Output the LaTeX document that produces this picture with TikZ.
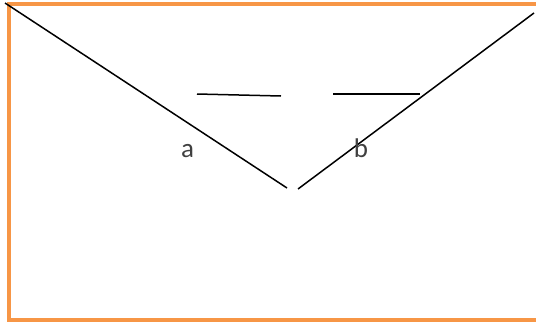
\documentclass[tikz,border=0pt]{standalone}
\usepackage{fontspec}
\setmainfont{Carlito}
\definecolor{frameorange}{HTML}{F79646}
\definecolor{labelgray}{HTML}{404040}
\tikzset{
  frame/.style={draw=frameorange, line width=4pt},
  seg/.style={draw=black, line width=1.5pt},
  lbl/.style={text=labelgray, font=\fontsize{27}{32}\selectfont, inner sep=0pt, anchor=base}
}
\begin{document}
\begin{tikzpicture}[x=1pt,y=-1pt]
\useasboundingbox (0,0) rectangle (536,324);
\fill[white] (0,0) rectangle (536,324);
\draw[frame] (8.5,3.5) rectangle (537.5,320);
\coordinate (l1) at (5,3);
\coordinate (l2) at (287,188);
\coordinate (r1) at (298,189);
\coordinate (r2) at (534,13);
\coordinate (m1) at (197,94);
\coordinate (m2) at (281,96);
\coordinate (n1) at (333,94);
\coordinate (n2) at (420,94);
\draw[seg] (l1) -- (l2);
\draw[seg] (r1) -- (r2);
\draw[seg] (m1) -- (m2);
\draw[seg] (n1) -- (n2);
\node[lbl] (a) at (187.5,157) {a};
\node[lbl] (b) at (361,157) {b};
\end{tikzpicture}
\end{document}
